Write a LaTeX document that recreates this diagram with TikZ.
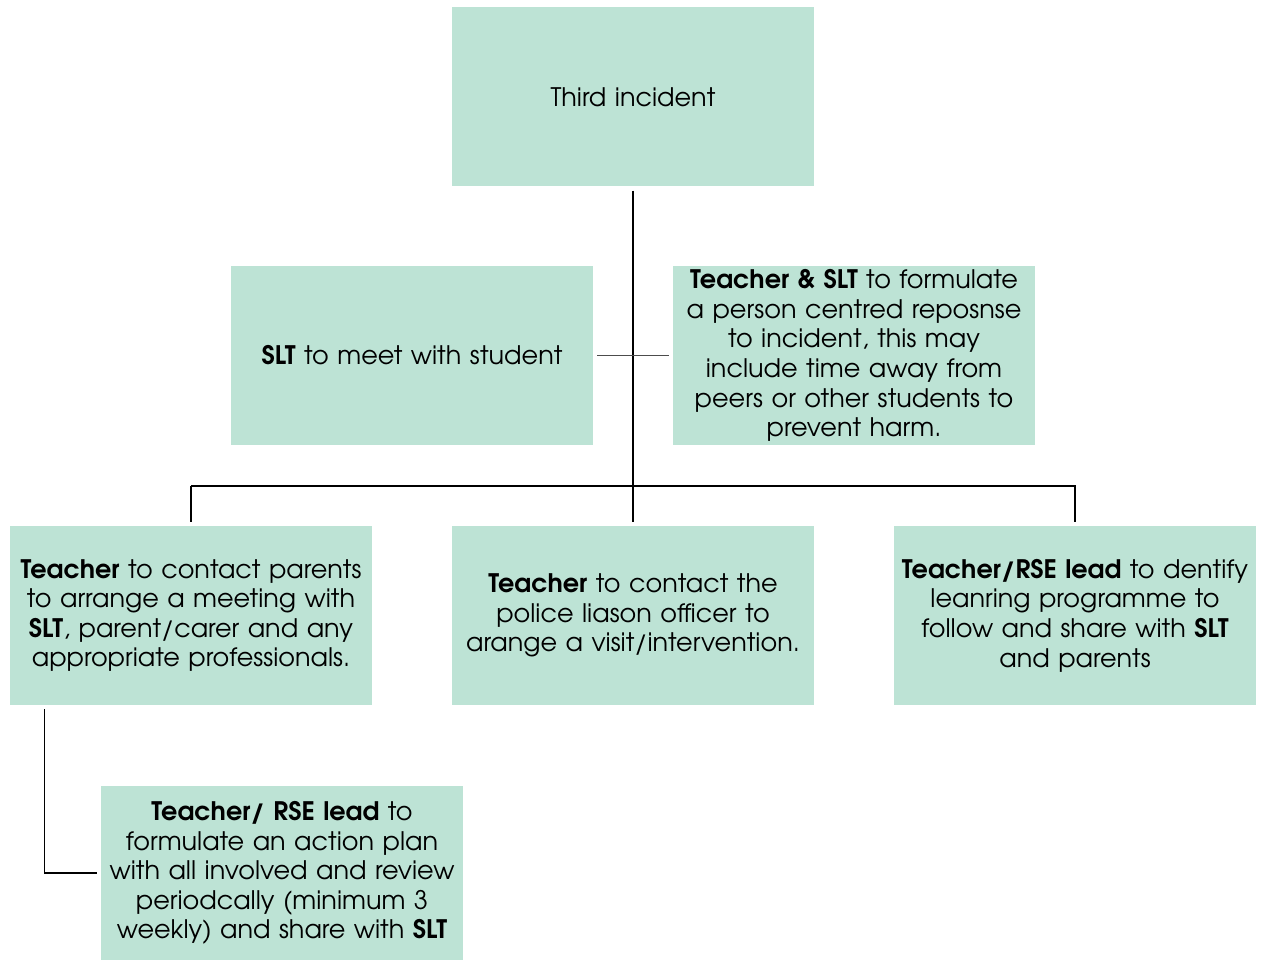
\documentclass[tikz,border=0pt]{standalone}
\usepackage{fontspec}
\setmainfont{TeX Gyre Adventor}
\definecolor{mint}{RGB}{189,227,213}
\tikzset{
  box/.style={fill=mint, draw=none, minimum width=362pt, minimum height=179pt, inner sep=0pt, text width=362pt, align=center, font=\fontsize{25.5}{29.6}\selectfont},
  conn/.style={draw=black, line width=1.2pt}
}
\begin{document}
\begin{tikzpicture}[x=1pt,y=-1pt]
\useasboundingbox (0,0) rectangle (1266,960);
\node[box] (third) at (633,97) {Third incident};
\node[box] (slt) at (412,355.5) {\textbf{SLT} to meet with student};
\node[box] (tslt) at (854,355.5) {\textbf{Teacher \& SLT} to formulate\\a person centred reposnse\\to incident, this may\\include time away from\\peers or other students to\\prevent harm.};
\node[box] (left) at (191,615.5) {\textbf{Teacher} to contact parents\\to arrange a meeting with\\\textbf{SLT}, parent/carer and any\\appropriate professionals.};
\node[box] (mid) at (633,615.5) {\textbf{Teacher} to contact the\\police liason officer to\\arange a visit/intervention.};
\node[box] (right) at (1075,615.5) {\textbf{Teacher/RSE lead} to dentify\\leanring programme to\\follow and share with \textbf{SLT}\\and parents};
\node[box, minimum height=174pt] (action) at (282,873) {\textbf{Teacher/ RSE lead} to\\formulate an action plan\\with all involved and review\\periodcally (minimum 3\\weekly) and share with \textbf{SLT}};
\coordinate (bus) at (633,486);
\draw[conn, shorten <=4pt, shorten >=4pt] (third.south) -- (mid.north);
\draw[conn, draw=black!70, shorten <=4pt, shorten >=4pt] (slt.east) -- (tslt.west);
\draw[conn, shorten >=4pt] (bus -| left.north) -- (bus -| right.north) -- (right.north);
\draw[conn, shorten >=4pt] (bus -| left.north) -- (left.north);
\draw[conn, shorten <=4pt, shorten >=4pt] ([xshift=35pt]left.south west) |- (action.west);
\end{tikzpicture}
\end{document}
